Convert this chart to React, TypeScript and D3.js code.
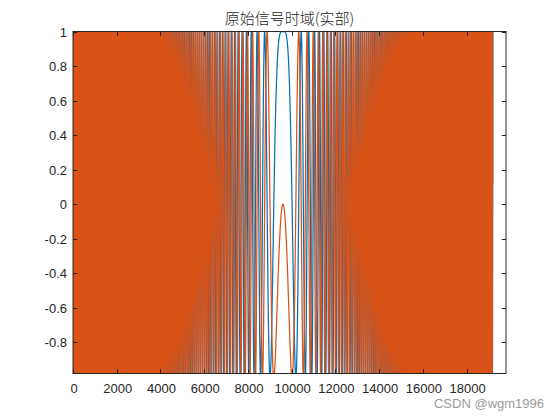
import React, { useMemo } from "react";
import * as d3 from "d3";

// ---- data parameters ----
const titleText = "原始信号时域(实部)";
const sampleCount = 19200; // samples in the signal
const chirpCenter = 9600; // sample index of the chirp centre
const chirpRate = 9.0e-6; // quadratic phase coefficient (rad / sample^2)
const xDomain = [0, 19800];
const yDomain = [-0.98, 1];
const xTicks = [0, 2000, 4000, 6000, 8000, 10000, 12000, 14000, 16000, 18000];
const yTicks = [-0.8, -0.6, -0.4, -0.2, 0, 0.2, 0.4, 0.6, 0.8, 1];
const seriesColors = ["#0072BD", "#D95319"];
const watermark = "CSDN @wgm1996";

// chirp samples: real part (cos) and quadrature part (-sin)
const sampleIndex: number[] = d3.range(sampleCount);
const realPart: number[] = sampleIndex.map((n) => Math.cos(chirpRate * (n - chirpCenter) ** 2));
const quadPart: number[] = sampleIndex.map((n) => -Math.sin(chirpRate * (n - chirpCenter) ** 2));

const W = 560;
const H = 420;
const M = { left: 73, right: 506, top: 31.5, bottom: 373.5 };

export default function App() {
  const x = d3.scaleLinear().domain(xDomain).range([M.left, M.right]);
  const y = d3.scaleLinear().domain(yDomain).range([M.bottom, M.top]);

  const paths = useMemo(() => {
    const line = d3
      .line<number>()
      .x((_, i) => x(sampleIndex[i]))
      .y((d) => y(d));
    return [line(realPart) || "", line(quadPart) || ""];
  }, []);

  const axisColor = "#262626";
  const tickLen = 4.3;
  const fontFamily = "Helvetica, Arial, 'Liberation Sans', sans-serif";

  return (
    <div style={{ position: "absolute", left: 0, top: 0, width: W, height: H, background: "#fff" }}>
      <svg width={W} height={H} viewBox={`0 0 ${W} ${H}`} style={{ display: "block" }}>
        <rect x={0} y={0} width={W} height={H} fill="#fff" />
        <defs>
          <clipPath id="plotClip">
            <rect x={M.left} y={M.top} width={M.right - M.left} height={M.bottom - M.top} />
          </clipPath>
        </defs>
        <g clipPath="url(#plotClip)">
          {paths.map((p, i) => (
            <path
              key={i}
              d={p}
              fill="none"
              stroke={seriesColors[i]}
              strokeWidth={1.25}
              strokeLinejoin="round"
            />
          ))}
        </g>
        {/* axes box */}
        <rect
          x={M.left}
          y={M.top}
          width={M.right - M.left}
          height={M.bottom - M.top}
          fill="none"
          stroke={axisColor}
          strokeWidth={1}
        />
        {/* x ticks */}
        {xTicks.map((t) => {
          const px = Math.round(x(t)) + 0.5;
          return (
            <g key={"x" + t}>
              <line x1={px} x2={px} y1={M.bottom} y2={M.bottom - tickLen} stroke={axisColor} />
              <line x1={px} x2={px} y1={M.top} y2={M.top + tickLen} stroke={axisColor} />
              <text
                x={x(t) + 1}
                y={393}
                textAnchor="middle"
                fontSize={13}
                fontFamily={fontFamily}
                fill={axisColor}
              >
                {t}
              </text>
            </g>
          );
        })}
        {/* y ticks */}
        {yTicks.map((t) => {
          const py = Math.round(y(t)) + 0.5;
          return (
            <g key={"y" + t}>
              <line x1={M.left} x2={M.left + tickLen} y1={py} y2={py} stroke={axisColor} />
              <line x1={M.right} x2={M.right - tickLen} y1={py} y2={py} stroke={axisColor} />
              <text
                x={67}
                y={y(t) + 5}
                textAnchor="end"
                fontSize={13}
                fontFamily={fontFamily}
                fill={axisColor}
              >
                {d3.format("~g")(Math.round(t * 10) / 10).replace("−", "-")}
              </text>
            </g>
          );
        })}
        {/* title */}
        <text
          x={(M.left + M.right) / 2}
          y={24}
          textAnchor="middle"
          fontSize={15}
          fontFamily="'Noto Sans CJK SC', sans-serif"
          fontWeight={300}
          fill="#262626"
        >
          {titleText}
        </text>
        {/* watermark */}
        <text x={544} y={408} textAnchor="end" fontSize={13} fontFamily={fontFamily} fill="#9a9a9a">
          {watermark}
        </text>
      </svg>
    </div>
  );
}
